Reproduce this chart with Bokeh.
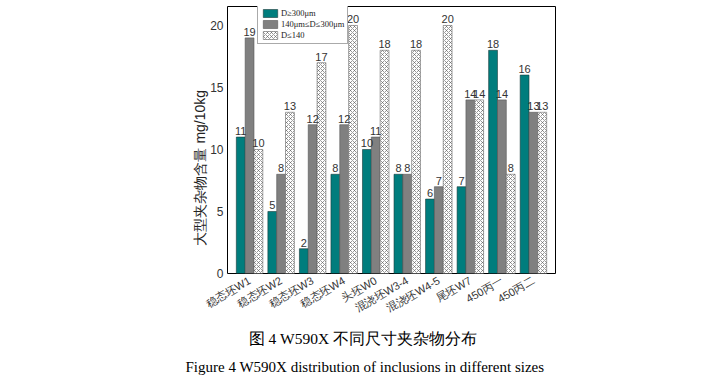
from bokeh.plotting import figure
from bokeh.models import ColumnDataSource, FactorRange, Range1d, Legend, LegendItem, Title
from bokeh.transform import dodge
from bokeh.core.properties import value
from bokeh.embed import file_html
from bokeh.resources import INLINE

categories = ["稳态坯W1", "稳态坯W2", "稳态坯W3", "稳态坯W4", "头坯W0",
              "混浇坯W3-4", "混浇坯W4-5", "尾坯W7", "450丙一", "450丙二"]
large = [11, 5, 2, 8, 10, 8, 6, 7, 18, 16]
medium = [19, 8, 12, 12, 11, 8, 7, 14, 14, 13]
small = [10, 13, 17, 20, 18, 18, 20, 14, 8, 13]
series_names = ["D≥300μm", "140μm≤D≤300μm", "D≤140"]
y_ticks = [0, 5, 10, 15, 20]

src = ColumnDataSource(dict(
    cat=categories, large=large, medium=medium, small=small,
    large_t=[str(v) for v in large], medium_t=[str(v) for v in medium],
    small_t=[str(v) for v in small],
))

p = figure(x_range=FactorRange(factors=categories, range_padding=0.2, range_padding_units="absolute"),
           y_range=Range1d(0, 21.53),
           frame_width=328, frame_height=267,
           min_border_left=227, min_border_right=155, min_border_top=6, min_border_bottom=108,
           output_backend="svg", toolbar_location=None)

w = 0.28
teal = "#007d7d"
gray = "#808080"
r1 = p.vbar(x=dodge("cat", -w, range=p.x_range), top="large", width=w, source=src,
            fill_color=teal, line_color="#1a3a3a", line_width=0.6)
r2 = p.vbar(x=dodge("cat", 0, range=p.x_range), top="medium", width=w, source=src,
            fill_color=gray, line_color="#555555", line_width=0.6)
r3 = p.vbar(x=dodge("cat", w, range=p.x_range), top="small", width=w, source=src,
            fill_color="white", line_color="#666666", line_width=0.6,
            hatch_pattern="x", hatch_scale=4, hatch_weight=0.6, hatch_color="#555555")

for off, col in [(-w, "large"), (0, "medium"), (w, "small")]:
    p.text(x=dodge("cat", off, range=p.x_range), y=col, text=col + "_t", source=src,
           text_align="center", text_baseline="bottom", y_offset=-2,
           text_font=value("Liberation Sans"), text_font_size="11px", text_color="#333333")

legend = Legend(items=[LegendItem(label=series_names[0], renderers=[r1]),
                       LegendItem(label=series_names[1], renderers=[r2]),
                       LegendItem(label=series_names[2], renderers=[r3])],
                location=(30, 229), orientation="vertical",
                glyph_width=18, glyph_height=10, label_height=10, label_standoff=2,
                spacing=1, padding=3, margin=0,
                label_text_font="Liberation Serif", label_text_font_size="8.5px",
                label_text_color="#222222",
                border_line_color="#555555", border_line_width=1, background_fill_alpha=1)
p.add_layout(legend)

p.outline_line_color = "black"
p.outline_line_width = 1
p.xgrid.grid_line_color = None
p.ygrid.grid_line_color = None

p.yaxis.ticker = y_ticks
p.yaxis.major_tick_line_color = None
p.yaxis.minor_tick_line_color = None
p.yaxis.major_tick_out = 0
p.yaxis.major_tick_in = 0
p.yaxis.axis_line_color = None
p.yaxis.major_label_standoff = 4
p.yaxis.major_label_text_font = "Liberation Sans"
p.yaxis.major_label_text_font_size = "12px"
p.yaxis.major_label_text_color = "#333333"

p.xaxis.major_tick_line_color = None
p.xaxis.minor_tick_line_color = None
p.xaxis.major_tick_out = 0
p.xaxis.major_tick_in = 0
p.xaxis.axis_line_color = None
p.xaxis.major_label_orientation = 0.52
p.xaxis.major_label_standoff = 6
p.xaxis.major_label_text_font = "Liberation Sans"
p.xaxis.major_label_text_font_size = "11px"
p.xaxis.major_label_text_color = "#333333"

p.add_layout(Title(text="大型夹杂物含量 mg/10kg", align="left", offset=28, standoff=0,
                   text_font="Liberation Sans", text_font_size="14px", text_font_style="normal",
                   text_color="#222222"), "left")
p.add_layout(Title(text="图 4 W590X 不同尺寸夹杂物分布", align="left", offset=21, standoff=10,
                   text_font="Liberation Serif", text_font_size="15.5px", text_font_style="normal",
                   text_color="black"), "below")
p.add_layout(Title(text="Figure 4 W590X distribution of inclusions in different sizes",
                   align="left", offset=-42, standoff=10,
                   text_font="Liberation Serif", text_font_size="15px", text_font_style="normal",
                   text_color="black"), "below")

open("out.html", "w").write(file_html(p, INLINE))
